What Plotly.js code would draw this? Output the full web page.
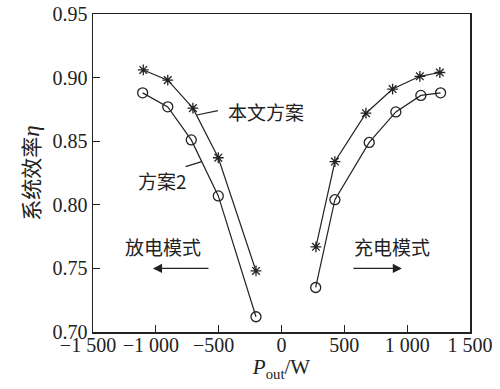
<!DOCTYPE html>
<html>
<head>
<meta charset="utf-8">
<script src="https://cdn.plot.ly/plotly-3.0.1.min.js"></script>
<style>html,body{margin:0;padding:0;background:#fff;}#chart{width:500px;height:389px;}</style>
</head>
<body>
<div id="chart"></div>
<script>
// 本文方案 (star markers)
const oursDischargeP = [-1100, -905, -705, -503, -203];
const oursDischargeEta = [0.906, 0.898, 0.876, 0.837, 0.748];
const oursChargeP = [274, 425, 672, 884, 1101, 1260];
const oursChargeEta = [0.767, 0.834, 0.872, 0.891, 0.901, 0.904];
// 方案2 (circle markers)
const altDischargeP = [-1105, -905, -718, -503, -203];
const altDischargeEta = [0.888, 0.877, 0.851, 0.807, 0.712];
const altChargeP = [272, 425, 698, 910, 1109, 1266];
const altChargeEta = [0.735, 0.804, 0.849, 0.873, 0.886, 0.888];
const xTickVals = [-1500, -1000, -500, 0, 500, 1000, 1500];
const xTickText = ["\u22121 500\u2002", "\u22121 000\u2002", "\u2212500\u2002", "0", "500", "1 000", "1 500"];
const yTickVals = [0.70, 0.75, 0.80, 0.85, 0.90, 0.95];
const yTickText = ["0.70", "0.75", "0.80", "0.85", "0.90", "0.95"];

const serif = "Liberation Serif, Times New Roman, serif";
const cjk = "Noto Sans CJK SC, sans-serif";
const ink = "#222";

function series(x, y, symbol, size) {
  return {
    x: x, y: y, type: "scatter", mode: "lines+markers",
    line: {color: ink, width: 1.2},
    marker: {symbol: symbol, size: size, color: ink, line: {color: ink, width: 1.3}},
    showlegend: false, hoverinfo: "skip"
  };
}

const data = [
  series(oursDischargeP, oursDischargeEta, "asterisk-open", 9),
  series(oursChargeP, oursChargeEta, "asterisk-open", 9),
  series(altDischargeP, altDischargeEta, "circle-open", 10),
  series(altChargeP, altChargeEta, "circle-open", 10)
];

const layout = {
  width: 500, height: 389,
  margin: {l: 93, r: 30, t: 14, b: 57},
  paper_bgcolor: "#fff", plot_bgcolor: "#fff",
  font: {family: serif, size: 20, color: ink},
  xaxis: {
    range: [-1500, 1500], tickvals: xTickVals, ticktext: xTickText, tickangle: 0,
    ticks: "inside", ticklen: 7, tickwidth: 1.2, tickcolor: ink,
    showline: true, linecolor: ink, linewidth: 1.5, mirror: true,
    showgrid: false, zeroline: false, ticklabelstandoff: -6,
    tickfont: {family: serif, size: 20, color: ink},
    title: {text: "<i>P</i><sub>out</sub>/W", font: {family: serif, size: 21, color: ink}, standoff: 2}
  },
  yaxis: {
    range: [0.70, 0.95], tickvals: yTickVals, ticktext: yTickText,
    ticks: "inside", ticklen: 7, tickwidth: 1.2, tickcolor: ink,
    showline: true, linecolor: ink, linewidth: 1.5, mirror: true,
    showgrid: false, zeroline: false,
    tickfont: {family: serif, size: 20, color: ink},
    title: {text: "<span style='font-family:Noto Sans CJK SC;font-size:21px'>系统效率</span><i>η</i>", font: {family: serif, size: 23, color: ink}, standoff: 6}
  },
  shapes: [
    {type: "line", xref: "x", yref: "y", x0: -673, y0: 0.8706, x1: -506, y1: 0.8740, line: {color: ink, width: 1.2}},
    {type: "line", xref: "x", yref: "y", x0: -763, y0: 0.8300, x1: -635, y1: 0.8339, line: {color: ink, width: 1.2}}
  ],
  annotations: [
    {xref: "x", yref: "y", x: -124, y: 0.873, text: "本文方案", showarrow: false, font: {family: cjk, size: 19, color: ink}},
    {xref: "x", yref: "y", x: -947, y: 0.8195, text: "方案2", showarrow: false, font: {family: cjk, size: 19, color: ink}},
    {xref: "x", yref: "y", x: -945, y: 0.767, text: "放电模式", showarrow: false, font: {family: cjk, size: 19, color: ink}},
    {xref: "x", yref: "y", x: 880, y: 0.767, text: "充电模式", showarrow: false, font: {family: cjk, size: 19, color: ink}},
    {xref: "x", yref: "y", x: -1023, y: 0.75, axref: "x", ayref: "y", ax: -569, ay: 0.75, text: "", showarrow: true, arrowhead: 2, arrowsize: 1.4, arrowwidth: 1.3, arrowcolor: ink},
    {xref: "x", yref: "y", x: 958, y: 0.75, axref: "x", ayref: "y", ax: 560, ay: 0.75, text: "", showarrow: true, arrowhead: 2, arrowsize: 1.4, arrowwidth: 1.3, arrowcolor: ink}
  ]
};

Plotly.newPlot("chart", data, layout, {displayModeBar: false, staticPlot: true});
</script>
</body>
</html>
